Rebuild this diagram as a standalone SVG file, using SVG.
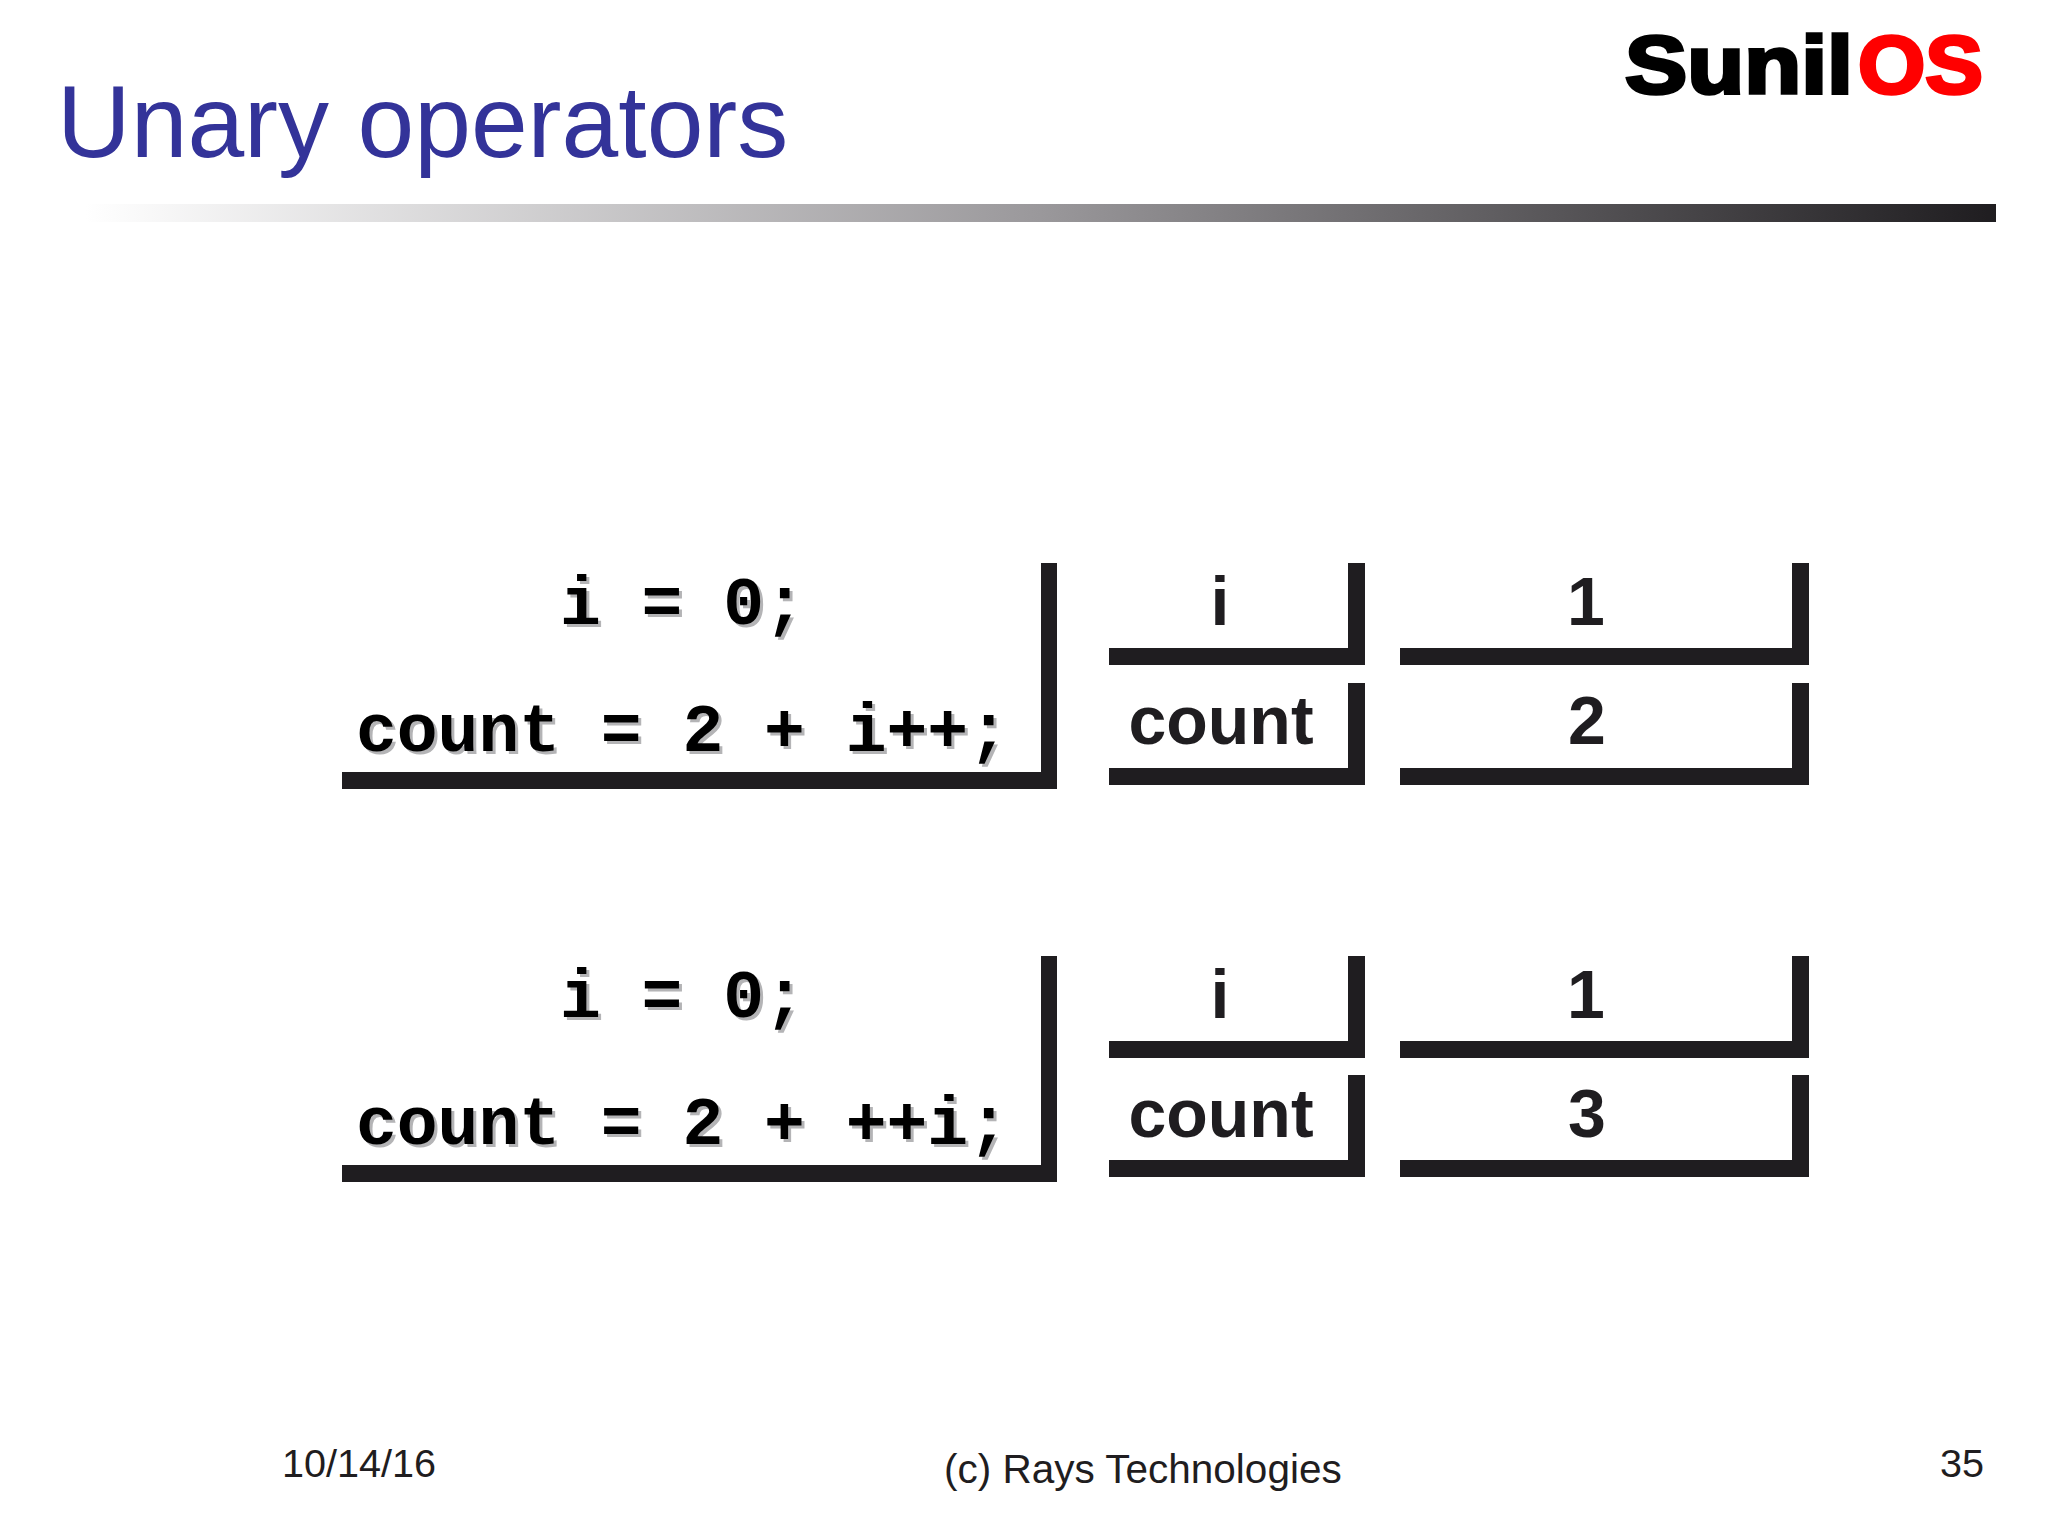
<svg xmlns="http://www.w3.org/2000/svg" width="2048" height="1536" viewBox="0 0 2048 1536">
<style>
.bar{fill:#1f1d20}
.code{font-family:"Liberation Mono",monospace;font-weight:700;font-size:68px;white-space:pre}
.sh{fill:#b4b4b6}
.tx{fill:#000}
.lab{font-family:"Liberation Sans",Arial,sans-serif;font-weight:700;font-size:68px;fill:#1f1d20;text-anchor:middle}
.foot{font-family:"Liberation Sans",Arial,sans-serif;fill:#1f1d20}
.logo{font-family:"Liberation Sans",Arial,sans-serif;font-weight:700;font-size:82px;stroke-width:3.5}
</style>
<defs>
<linearGradient id="rule" x1="0" x2="1" y1="0" y2="0">
<stop offset="0" stop-color="#ffffff"/><stop offset="0.5" stop-color="#9a989b"/><stop offset="1" stop-color="#1f1d20"/>
</linearGradient>
<path id="codeBox" class="bar" d="M1041 0H1057V226H342V209H1041Z"/>
<path id="nameBox" class="bar" d="M1348 0H1365V102H1109V85H1348Z"/>
<path id="valBox" class="bar" d="M1792 0H1809V102H1400V85H1792Z"/>
</defs>
<rect width="2048" height="1536" fill="#ffffff"/>
<g id="header">
<text x="57" y="157" font-family="Liberation Sans, Arial, sans-serif" font-size="102" fill="#333399">Unary operators</text>
<rect x="85" y="204" width="1911" height="18" fill="url(#rule)"/>
<text class="logo" x="1625" y="93" fill="#000" stroke="#000" textLength="228" lengthAdjust="spacingAndGlyphs">Sunil</text>
<text class="logo" x="1858" y="93" fill="#f00" stroke="#f00" textLength="125" lengthAdjust="spacingAndGlyphs">OS</text>
</g>
<g id="code-post">
<use href="#codeBox" y="563"/>
<text class="code sh" x="563" y="627">i = 0;</text><text class="code tx" x="560" y="624">i = 0;</text>
<text class="code sh" x="359" y="754">count = 2 + i++;</text><text class="code tx" x="356" y="751">count = 2 + i++;</text>
</g>
<g id="var-i-post">
<use href="#nameBox" y="563"/><text class="lab" x="1220" y="625">i</text>
</g>
<g id="val-i-post">
<use href="#valBox" y="563"/><text class="lab" x="1586" y="625">1</text>
</g>
<g id="var-count-post">
<use href="#nameBox" y="683"/><text class="lab" x="1221" y="744">count</text>
</g>
<g id="val-count-post">
<use href="#valBox" y="683"/><text class="lab" x="1587" y="744">2</text>
</g>
<g id="code-pre">
<use href="#codeBox" y="956"/>
<text class="code sh" x="563" y="1020">i = 0;</text><text class="code tx" x="560" y="1017">i = 0;</text>
<text class="code sh" x="359" y="1147">count = 2 + ++i;</text><text class="code tx" x="356" y="1144">count = 2 + ++i;</text>
</g>
<g id="var-i-pre">
<use href="#nameBox" y="956"/><text class="lab" x="1220" y="1018">i</text>
</g>
<g id="val-i-pre">
<use href="#valBox" y="956"/><text class="lab" x="1586" y="1018">1</text>
</g>
<g id="var-count-pre">
<use href="#nameBox" y="1075"/><text class="lab" x="1221" y="1137">count</text>
</g>
<g id="val-count-pre">
<use href="#valBox" y="1075"/><text class="lab" x="1587" y="1137">3</text>
</g>
<g id="connectors"></g>
<g id="footer">
<text class="foot" font-size="39.6" x="282" y="1477">10/14/16</text>
<text class="foot" font-size="40.5" x="944" y="1483">(c) Rays Technologies</text>
<text class="foot" font-size="39.6" x="1940" y="1477">35</text>
</g>
</svg>
